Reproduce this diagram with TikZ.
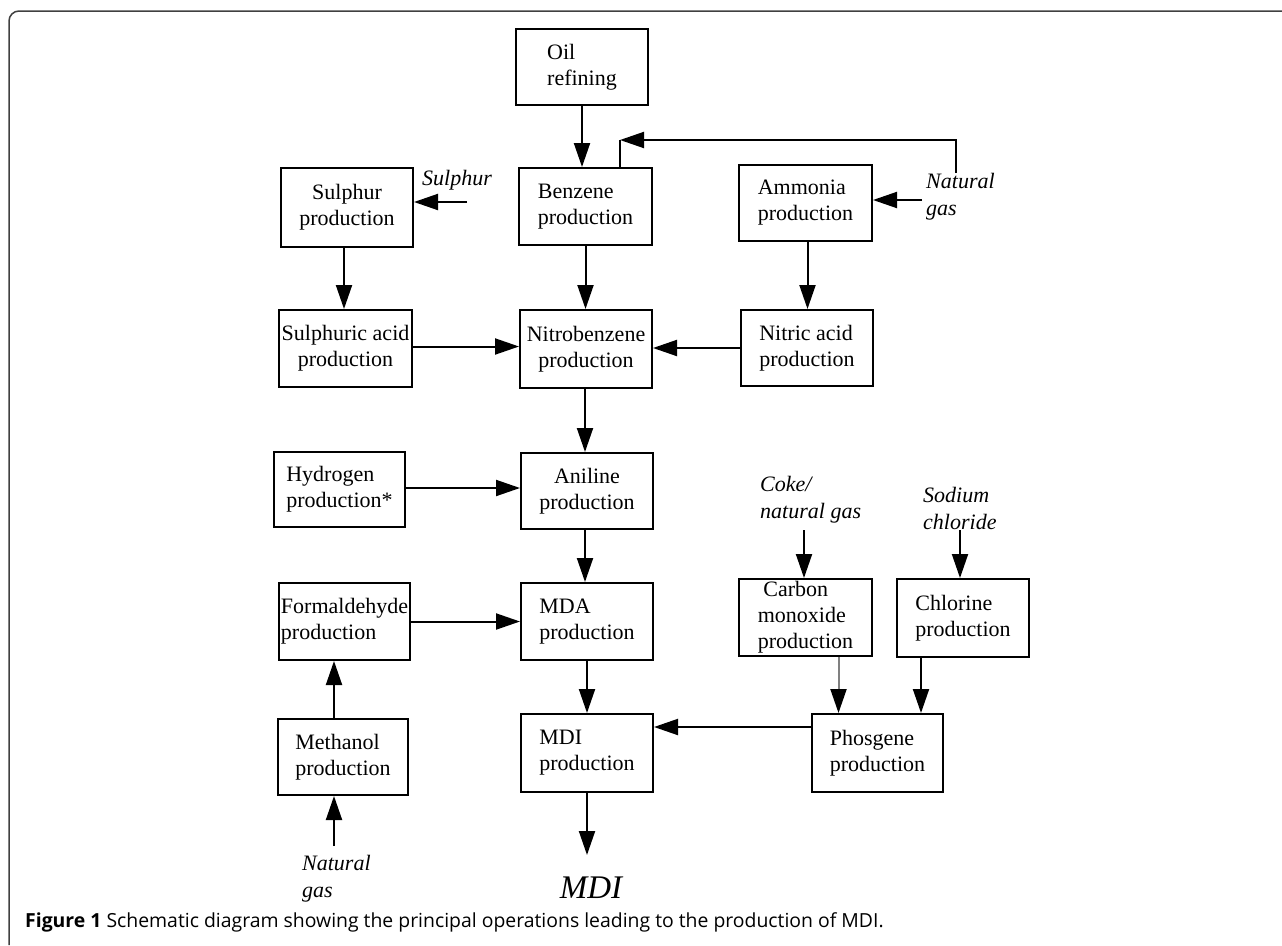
\documentclass[tikz,border=0pt]{standalone}
\usepackage{fontspec}
\setmainfont{Liberation Serif}
\newfontfamily\capfont{Open Sans}
\usetikzlibrary{arrows.meta}
\begin{document}
\begin{tikzpicture}[x=1pt,y=-1pt,
 box/.style={draw,line width=2pt,inner sep=0pt,align=left,font=\fontsize{22}{26}\selectfont},
 lbl/.style={anchor=west,inner sep=0pt,align=left,font=\fontsize{22}{27}\selectfont\itshape},
 arr/.style={line width=2pt,-{Triangle[length=24pt,width=16pt]}},
 arrg/.style={line width=2pt,draw=black!50,-{Triangle[length=24pt,width=16pt,color=black,fill=black]}},
 ln/.style={line width=2pt}]
\useasboundingbox (0,0) rectangle (1282,945);
\draw[line width=1.5pt,color=black!75,rounded corners=10pt] (9,945) |- (1282,11);

\node[box,minimum width=132pt,minimum height=76pt] (oil) at (582,67) {Oil\\refining};
\node[box,minimum width=133pt,minimum height=77pt] (benz) at (585.5,206.5) {Benzene\\production};
\node[box,minimum width=132pt,minimum height=79pt,align=center] (sulph) at (347,207.5) {Sulphur\\production};
\node[box,minimum width=133pt,minimum height=76pt] (ammo) at (805.5,203) {Ammonia\\production};
\node[box,minimum width=133pt,minimum height=77pt,align=center] (sacid) at (345.5,348.5) {Sulphuric acid\\production};
\node[box,minimum width=132pt,minimum height=78pt,align=center] (nitro) at (586,349) {Nitrobenzene\\production};
\node[box,minimum width=132pt,minimum height=76pt] (nitric) at (807,348) {Nitric acid\\production};
\node[box,minimum width=131pt,minimum height=75pt] (hydro) at (339.5,489.5) {Hydrogen\\production*};
\node[box,minimum width=132pt,minimum height=76pt,align=center] (anil) at (587,491) {Aniline\\production};
\node[box,minimum width=131pt,minimum height=77pt] (form) at (344.5,621.5) {Formaldehyde\\production};
\node[box,minimum width=132pt,minimum height=77pt] (mda) at (587,621.5) {MDA\\production};
\node[box,minimum width=133pt,minimum height=77pt] (co) at (805.5,617.5) {\ Carbon\\monoxide\\production};
\node[box,minimum width=132pt,minimum height=78pt] (chl) at (963,618) {Chlorine\\production};
\node[box,minimum width=130pt,minimum height=76pt] (meth) at (343,757) {Methanol\\production};
\node[box,minimum width=132pt,minimum height=78pt] (mdi) at (587,753) {MDI\\production};
\node[box,minimum width=131pt,minimum height=78pt] (phos) at (877.5,753) {Phosgene\\production};

\node[lbl] (ngtl) at (926,197) {Natural\\gas};
\node[lbl] (sull) at (422,180) {Sulphur};
\node[lbl] (cokel) at (760,500) {Coke/\\natural gas};
\node[lbl] (nacll) at (923,508) {Sodium\\chloride};
\node[lbl] (ngbl) at (302,879) {Natural\\gas};
\node[inner sep=0pt,font=\fontsize{33}{36}\selectfont\itshape] (mdil) at (591,888) {MDI};

\coordinate (fbr) at (956,173);
\coordinate (fbl) at (620,140);
\coordinate (ngt) at (922,200);
\coordinate (sul) at (467,202);
\coordinate (ngb) at (334,846);
\coordinate (mdiend) at (587,855);
\coordinate (coke) at (804,530);
\coordinate (nacl) at (960,530);

\draw[arr] (oil.south) -- (oil.south |- benz.north);
\draw[arr] (fbr) |- (fbl);
\draw[ln] (fbl) -- (fbl |- benz.north);
\draw[arr] (ngt) -- (ngt -| ammo.east);
\draw[arr] (sul) -- (sul -| sulph.east);
\draw[arr] ([xshift=-3pt]sulph.south) -- ([xshift=-3pt]sulph.south |- sacid.north);
\draw[arr] (benz.south) -- (benz.south |- nitro.north);
\draw[arr] ([xshift=2pt]ammo.south) -- ([xshift=2pt]ammo.south |- nitric.north);
\draw[arr] ([yshift=2pt]sacid.east) -- ([yshift=2pt]sacid.east -| nitro.west);
\draw[arr] (nitric.west) -- (nitric.west -| nitro.east);
\draw[arr] ([xshift=-1pt]nitro.south) -- ([xshift=-1pt]nitro.south |- anil.north);
\draw[arr] ([yshift=1.5pt]hydro.east) -- ([yshift=1.5pt]hydro.east -| anil.west);
\draw[arr] ([xshift=-2pt]anil.south) -- ([xshift=-2pt]anil.south |- mda.north);
\draw[arr] (form.east) -- (form.east -| mda.west);
\draw[arr] ([xshift=-9pt]meth.north) -- ([xshift=-9pt]meth.north |- form.south);
\draw[arr] (ngb) -- (ngb |- meth.south);
\draw[arr] (mda.south) -- (mda.south |- mdi.north);
\draw[arr] (mdi.south) -- (mdiend);
\draw[arr] ([yshift=26pt]phos.west) -- ([yshift=26pt]phos.west -| mdi.east);
\draw[arr] (coke) -- (coke |- co.north);
\draw[arr] (nacl) -- (nacl |- chl.north);
\draw[arrg] ([xshift=33pt]co.south) -- ([xshift=33pt]co.south |- phos.north);
\draw[arr] ([xshift=-42pt]chl.south) -- ([xshift=-42pt]chl.south |- phos.north);

\node[anchor=base west,inner sep=0pt,font=\capfont\fontsize{19.4}{22}\selectfont] (cap) at (25,927) {\textbf{Figure 1} Schematic diagram showing the principal operations leading to the production of MDI.};
\end{tikzpicture}
\end{document}
